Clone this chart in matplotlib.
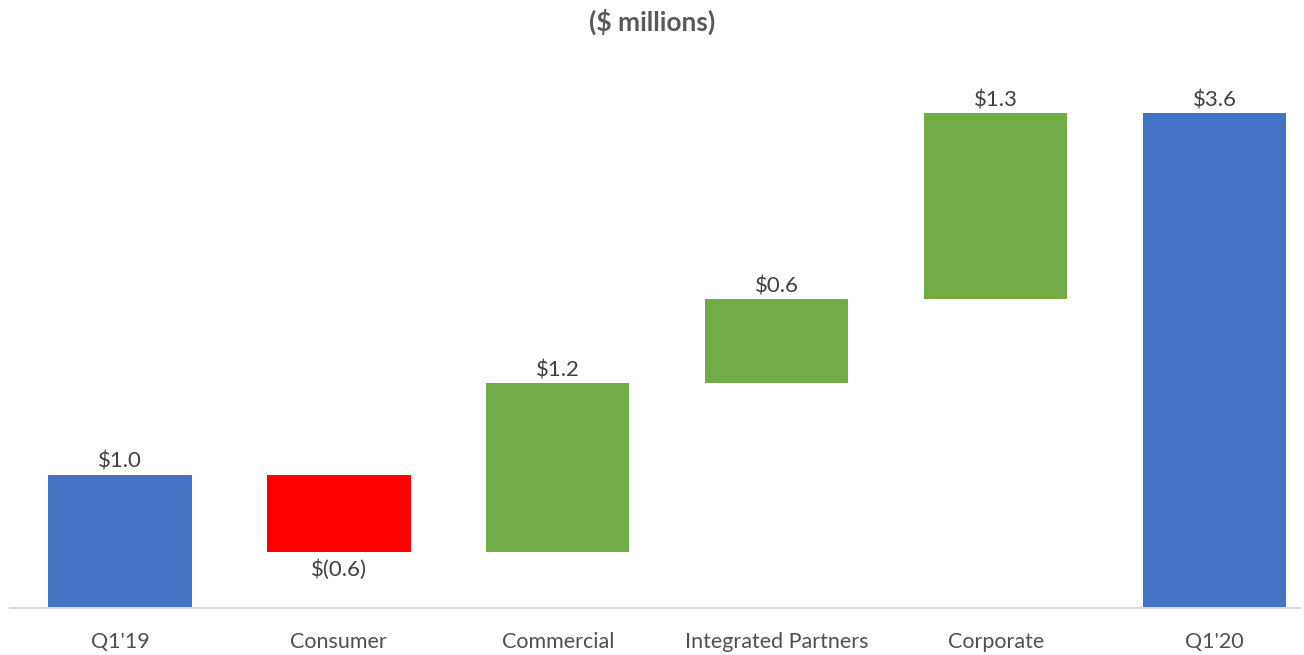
import matplotlib.pyplot as plt

plt.rcParams['font.family'] = ['Lato', 'DejaVu Sans']

categories = ["Q1'19", "Consumer", "Commercial", "Integrated Partners", "Corporate", "Q1'20"]
# first and last are totals, the rest are changes
values = [0.96, -0.56, 1.22, 0.60, 1.34, 3.56]
kinds = ["total", "delta", "delta", "delta", "delta", "total"]

BLUE = "#4472C4"
GREEN = "#70AD47"
RED = "#FF0000"
TEXT = "#404040"


def money(v):
    return "$(%.1f)" % abs(v) if v < 0 else "$%.1f" % v


fig = plt.figure(figsize=(13.04, 6.55), dpi=100)
ax = fig.add_axes([10 / 1304, 47 / 655, 1290 / 1304, 550 / 655])

running = 0.0
for i, (v, k) in enumerate(zip(values, kinds)):
    if k == "total":
        bottom, height, color = 0.0, v, BLUE
        running = v
    else:
        bottom = running if v >= 0 else running + v
        height = abs(v)
        color = GREEN if v >= 0 else RED
        running += v
    ax.bar(i, height, bottom=bottom, width=0.655, color=color)
    if v >= 0:
        ax.text(i, bottom + height + 0.02, money(v), ha="center", va="bottom",
                fontsize=16, color=TEXT)
    else:
        ax.text(i, bottom - 0.05, money(v), ha="center", va="top",
                fontsize=16, color=TEXT)

ax.set_xlim(-0.502, 5.39)
ax.set_ylim(0, 3.957)
ax.set_xticks(range(len(categories)))
ax.set_xticklabels(categories, fontsize=15.5, color="#505050")
ax.tick_params(axis="x", length=0, pad=17)
ax.set_yticks([])
for s in ["top", "left", "right"]:
    ax.spines[s].set_visible(False)
ax.spines["bottom"].set_color("#D9D9D9")
ax.spines["bottom"].set_linewidth(1.5)

fig.text(0.5, 1 - 22 / 655, "($ millions)", ha="center", va="center",
         fontsize=19, fontweight="bold", color="#595959")

fig.savefig("out.png", dpi=100)
